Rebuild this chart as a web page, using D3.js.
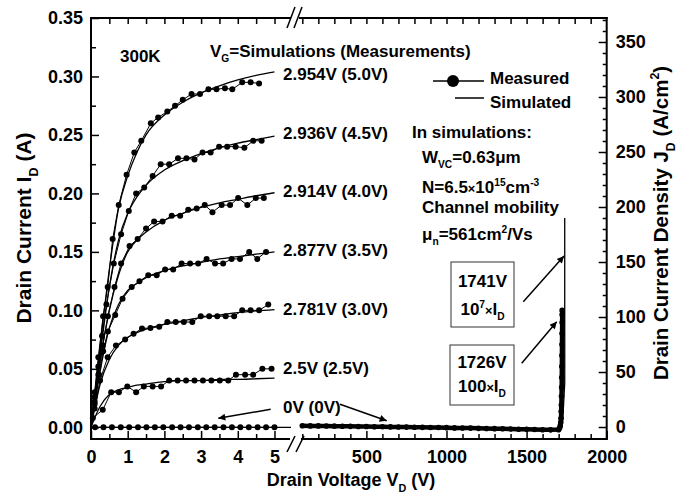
<!DOCTYPE html>
<html>
<head>
<meta charset="utf-8">
<script src="https://cdn.jsdelivr.net/npm/d3@7"></script>
<style>
  body { margin: 0; background: #fff; }
  svg { display: block; }
  text { font-family: "Liberation Sans", Arial, sans-serif; font-weight: bold; }
</style>
</head>
<body>
<svg id="chart" width="680" height="494"></svg>
<script>
// measured curves (V, A), left part 0-5 V
const m50V = [0.1,0.2,0.33,0.455,0.59,0.755,0.97,1.18,1.37,1.63,1.83,2.08,2.29,2.5,2.74,2.97,3.2,3.42,3.65,3.85,4.12,4.35,4.58];
const m50I = [0.03,0.06,0.095,0.12,0.161,0.19,0.216,0.235,0.245,0.26,0.265,0.27,0.275,0.28,0.285,0.285,0.289,0.289,0.29,0.289,0.295,0.295,0.294];
const m45V = [0.1,0.2,0.3,0.42,0.62,0.82,1.03,1.23,1.45,1.68,1.9,2.13,2.37,2.6,2.82,3.04,3.26,3.49,3.71,3.94,4.18,4.42,4.65];
const m45I = [0.026,0.052,0.078,0.105,0.14,0.165,0.185,0.2,0.205,0.215,0.225,0.225,0.23,0.23,0.229,0.235,0.235,0.24,0.24,0.24,0.239,0.245,0.245];
const m40V = [0.1,0.2,0.32,0.46,0.64,0.82,1.05,1.27,1.5,1.72,1.95,2.2,2.43,2.65,2.88,3.1,3.31,3.56,3.79,4.01,4.26,4.49,4.71];
const m40I = [0.022,0.045,0.07,0.095,0.12,0.14,0.155,0.161,0.17,0.176,0.176,0.181,0.181,0.186,0.187,0.19,0.184,0.19,0.19,0.196,0.19,0.196,0.196];
const m35V = [0.1,0.22,0.33,0.46,0.66,0.86,1.11,1.32,1.56,1.79,2.02,2.24,2.47,2.7,2.92,3.15,3.38,3.6,3.83,4.06,4.31,4.53,4.77];
const m35I = [0.02,0.045,0.065,0.082,0.096,0.11,0.12,0.125,0.13,0.13,0.135,0.135,0.14,0.14,0.14,0.144,0.14,0.14,0.144,0.144,0.15,0.144,0.15];
const m30V = [0.1,0.245,0.455,0.68,0.93,1.16,1.39,1.62,1.86,2.08,2.31,2.53,2.76,2.99,3.22,3.44,3.67,3.9,4.12,4.35,4.58,4.83];
const m30I = [0.016,0.04,0.06,0.07,0.075,0.08,0.0845,0.085,0.086,0.09,0.09,0.09,0.09,0.095,0.095,0.095,0.095,0.095,0.1,0.1,0.1,0.105];
const m25V = [0.05,0.32,0.55,0.76,0.99,1.23,1.44,1.68,1.91,2.13,2.36,2.59,2.82,3.05,3.28,3.51,3.74,3.95,4.2,4.42,4.67,4.92];
const m25I = [0.008,0.015,0.03,0.03,0.035,0.03,0.035,0.035,0.035,0.04,0.04,0.04,0.04,0.04,0.04,0.04,0.04,0.045,0.045,0.045,0.05,0.05];
const m0V = [0.11,0.34,0.57,0.81,1.04,1.28,1.51,1.74,1.97,2.21,2.44,2.67,2.91,3.14,3.37,3.61,3.84,4.07,4.3,4.54,4.77,5.0];
const m0I = [0,0,0,0,0,0,0,0,0,0,0,0,0,0,0,0,0,0,0,0,0,0];

// simulated curves on a common voltage grid
const simV = [0,0.1,0.25,0.5,0.75,1,1.25,1.5,2,2.5,3,3.5,4,4.5,5];
const s50 = [0,0.028,0.07,0.135,0.187,0.215,0.235,0.25,0.267,0.278,0.286,0.292,0.297,0.301,0.304];
const s45 = [0,0.025,0.062,0.12,0.16,0.183,0.197,0.207,0.22,0.228,0.234,0.239,0.243,0.246,0.249];
const s40 = [0,0.023,0.057,0.1,0.13,0.15,0.16,0.167,0.177,0.183,0.188,0.192,0.195,0.198,0.2006];
const s35 = [0,0.02,0.048,0.085,0.105,0.117,0.123,0.128,0.134,0.138,0.141,0.144,0.146,0.148,0.15];
const s30 = [0,0.016,0.037,0.058,0.07,0.077,0.081,0.084,0.088,0.091,0.094,0.096,0.098,0.0995,0.1007];
const s25 = [0,0.008,0.018,0.028,0.032,0.034,0.036,0.037,0.039,0.04,0.04,0.041,0.041,0.0415,0.042];
const s0V = [0,5.45];
const s0I = [0,0];

// blocking curve, right part (V, A/cm2)
const blkV = [100,150,200,250,300,350,400,450,500,550,600,650,700,750,800,850,900,950,1000,1050,1100,1150,1200,1250,1300,1350,1400,1450,1500,1550,1600,1650,1700,1706,1710,1713,1715,1716,1717,1718,1719,1719.5,1720,1720.5,1721,1721.5,1722,1722,1722];
const blkJ = [1.2,1.0,1.0,0.9,0.8,0.7,0.6,0.5,0.4,0.3,0.2,0.1,0,-0.1,-0.2,-0.3,-0.4,-0.5,-0.6,-0.8,-0.9,-1.0,-1.2,-1.3,-1.5,-1.6,-1.8,-2.0,-2.1,-2.3,-2.5,-2.6,-2.4,-1,1,4,8,14,20,28,36,45,55,65,75,85,95,102,106];
const blkSimV = [1712,1725,1738,1738];
const blkSimJ = [0,5,40,190];

const leftTicks = [0,0.05,0.1,0.15,0.2,0.25,0.3,0.35];
const rightTicks = [0,50,100,150,200,250,300,350];
const xTicksL = [0,1,2,3,4,5];
const xTicksR = [500,1000,1500,2000];

const curveLabels = ['2.954V (5.0V)','2.936V (4.5V)','2.914V (4.0V)','2.877V (3.5V)','2.781V (3.0V)','2.5V (2.5V)','0V (0V)'];

const svg = d3.select('#chart');

const xL = d3.scaleLinear().domain([0, 5.45]).range([91, 291]);
const xR = d3.scaleLinear().domain([95, 2000]).range([301.5, 606.7]);
const yL = d3.scaleLinear().domain([-0.01, 0.35]).range([439, 18]);
const yR = d3.scaleLinear().domain([-10.9, 371.8]).range([439, 18]);

const FONT = '"Liberation Sans", Arial, sans-serif';

svg.append('defs').append('marker')
  .attr('id', 'arr').attr('viewBox', '0 0 10 10').attr('refX', 10).attr('refY', 5)
  .attr('markerWidth', 9).attr('markerHeight', 7).attr('markerUnits', 'userSpaceOnUse')
  .attr('orient', 'auto')
  .append('path').attr('d', 'M0,0L10,5L0,10Z').attr('fill', '#000');

function styleAxis(g, size) {
  g.select('.domain').remove();
  g.attr('font-family', FONT).attr('font-size', size).attr('font-weight', 'bold');
  g.selectAll('line').attr('stroke-width', 1.5);
}

// bottom axis
svg.append('g').attr('transform', 'translate(0,439)')
  .call(d3.axisBottom(xL).tickValues(xTicksL).tickSize(-8).tickPadding(11).tickFormat(d3.format('d')))
  .call(g => styleAxis(g, 18));
svg.append('g').attr('transform', 'translate(0,439)')
  .call(d3.axisBottom(xL).tickValues([0.5,1.5,2.5,3.5,4.5]).tickSize(-5).tickFormat(''))
  .call(g => styleAxis(g, 18));
svg.append('g').attr('transform', 'translate(0,439)')
  .call(d3.axisBottom(xR).tickValues(xTicksR).tickSize(-8).tickPadding(11).tickFormat(d3.format('d')))
  .call(g => styleAxis(g, 18));
svg.append('g').attr('transform', 'translate(0,439)')
  .call(d3.axisBottom(xR).tickValues([100,200,300,400,600,700,800,900,1100,1200,1300,1400,1600,1700,1800,1900]).tickSize(-5).tickFormat(''))
  .call(g => styleAxis(g, 18));

// top axis (mirror ticks)
svg.append('g').attr('transform', 'translate(0,18)')
  .call(d3.axisTop(xL).tickValues([0.5,1,1.5,2,2.5,3,3.5,4,4.5,5]).tickSize(-6).tickFormat(''))
  .call(g => styleAxis(g, 18));
svg.append('g').attr('transform', 'translate(0,18)')
  .call(d3.axisTop(xR).tickValues([100,200,300,400,500,600,700,800,900,1000,1100,1200,1300,1400,1500,1600,1700,1800,1900]).tickSize(-6).tickFormat(''))
  .call(g => styleAxis(g, 18));

// left axis
svg.append('g').attr('transform', 'translate(91,0)')
  .call(d3.axisLeft(yL).tickValues(leftTicks).tickSize(-8).tickPadding(8).tickFormat(d3.format('.2f')))
  .call(g => styleAxis(g, 18));
svg.append('g').attr('transform', 'translate(91,0)')
  .call(d3.axisLeft(yL).tickValues([0.025,0.075,0.125,0.175,0.225,0.275,0.325]).tickSize(-5).tickFormat(''))
  .call(g => styleAxis(g, 18));

// right axis
svg.append('g').attr('transform', 'translate(606.7,0)')
  .call(d3.axisRight(yR).tickValues(rightTicks).tickSize(-8).tickPadding(9).tickFormat(d3.format('d')))
  .call(g => styleAxis(g, 18));
svg.append('g').attr('transform', 'translate(606.7,0)')
  .call(d3.axisRight(yR).tickValues(d3.range(10, 371, 10).filter(d => d % 50 !== 0)).tickSize(-4).tickFormat(''))
  .call(g => styleAxis(g, 18));

// frame with the break
const frame = svg.append('g').attr('stroke', '#000').attr('stroke-width', 2).attr('fill', 'none');
frame.append('line').attr('x1', 91).attr('x2', 91).attr('y1', 17).attr('y2', 440);
frame.append('line').attr('x1', 606.7).attr('x2', 606.7).attr('y1', 17).attr('y2', 440);
frame.append('line').attr('x1', 90).attr('x2', 291).attr('y1', 18).attr('y2', 18);
frame.append('line').attr('x1', 299).attr('x2', 607.7).attr('y1', 18).attr('y2', 18);
frame.append('line').attr('x1', 90).attr('x2', 290).attr('y1', 439).attr('y2', 439);
frame.append('line').attr('x1', 301).attr('x2', 607.7).attr('y1', 439).attr('y2', 439);
const brk = svg.append('g').attr('stroke', '#000').attr('stroke-width', 1.5);
brk.append('line').attr('x1', 287).attr('y1', 28).attr('x2', 295).attr('y2', 7);
brk.append('line').attr('x1', 294).attr('y1', 28).attr('x2', 302).attr('y2', 7);
brk.append('line').attr('x1', 287).attr('y1', 452).attr('x2', 295).attr('y2', 436);
brk.append('line').attr('x1', 296).attr('y1', 452).attr('x2', 304).attr('y2', 436);

// simulated lines
const simLine = d3.line().x(d => xL(d[0])).y(d => yL(d[1])).curve(d3.curveMonotoneX);
[s50, s45, s40, s35, s30, s25].forEach(s => {
  svg.append('path').datum(simV.map((v, i) => [v, s[i]]))
    .attr('d', simLine).attr('fill', 'none').attr('stroke', '#000').attr('stroke-width', 1.3);
});
svg.append('path').datum(s0V.map((v, i) => [v, s0I[i]]))
  .attr('d', simLine).attr('fill', 'none').attr('stroke', '#000').attr('stroke-width', 1.3);

// measured lines + dots
const measLine = d3.line().x(d => xL(d[0])).y(d => yL(d[1]));
[[m50V, m50I], [m45V, m45I], [m40V, m40I], [m35V, m35I], [m30V, m30I], [m25V, m25I], [m0V, m0I]].forEach(([vs, is]) => {
  const pts = vs.map((v, i) => [v, is[i]]);
  svg.append('path').datum(pts).attr('d', measLine).attr('fill', 'none').attr('stroke', '#000').attr('stroke-width', 1);
  svg.append('g').selectAll('circle').data(pts).join('circle')
    .attr('cx', d => xL(d[0])).attr('cy', d => yL(d[1])).attr('r', 3).attr('fill', '#000');
});

// blocking characteristic (right part)
const blkPts = blkV.map((v, i) => [v, blkJ[i]]);
svg.append('path').datum(blkPts)
  .attr('d', d3.line().x(d => xR(d[0])).y(d => yR(d[1])))
  .attr('fill', 'none').attr('stroke', '#000').attr('stroke-width', 4.5);
svg.append('g').selectAll('circle').data(blkPts).join('circle')
  .attr('cx', d => xR(d[0])).attr('cy', d => yR(d[1])).attr('r', 2.8).attr('fill', '#000');
svg.append('path').datum(blkSimV.map((v, i) => [v, blkSimJ[i]]))
  .attr('d', d3.line().x(d => xR(d[0])).y(d => yR(d[1])))
  .attr('fill', 'none').attr('stroke', '#000').attr('stroke-width', 1.3);

// rich text helper: parts with sub/sup
function rich(x, y, parts, size, anchor) {
  const t = svg.append('text').attr('x', x).attr('y', y).attr('font-size', size)
    .attr('text-anchor', anchor || 'start').attr('fill', '#000');
  let shift = 0;
  parts.forEach(p => {
    const s = p.sub ? 0.32 * size : p.sup ? -0.42 * size : 0;
    const ts = t.append('tspan').attr('dy', s - shift).text(p.t);
    if (p.sub || p.sup) ts.attr('font-size', size * 0.6);
    if (p.small) ts.attr('font-size', size * 0.75);
    shift = s;
  });
  return t;
}

rich(120, 62, [{t: '300K'}], 17);
rich(210, 57, [{t: 'V'}, {t: 'G', sub: true}, {t: '=Simulations (Measurements)'}], 17);
const labY = [80, 138.5, 197, 256, 315, 374, 413];
curveLabels.forEach((l, i) => rich(283, labY[i], [{t: l}], 17));

// legend
svg.append('line').attr('x1', 433).attr('x2', 484).attr('y1', 81).attr('y2', 81).attr('stroke', '#000').attr('stroke-width', 1.5);
svg.append('circle').attr('cx', 453).attr('cy', 81).attr('r', 6).attr('fill', '#000');
rich(490, 84, [{t: 'Measured'}], 17);
svg.append('line').attr('x1', 455).attr('x2', 484).attr('y1', 98).attr('y2', 98).attr('stroke', '#000').attr('stroke-width', 1.5);
rich(490, 108, [{t: 'Simulated'}], 17);

rich(412, 138, [{t: 'In simulations:'}], 17);
rich(422, 163, [{t: 'W'}, {t: 'VC', sub: true}, {t: '=0.63\u03bcm'}], 17);
rich(422, 193, [{t: 'N=6.5'}, {t: '\u00d7', small: true}, {t: '10'}, {t: '15', sup: true}, {t: 'cm'}, {t: '-3', sup: true}], 17);
rich(422, 213, [{t: 'Channel mobility'}], 17);
rich(422, 240, [{t: '\u03bc'}, {t: 'n', sub: true}, {t: '=561cm'}, {t: '2', sup: true}, {t: '/Vs'}], 17);

// boxes
svg.append('rect').attr('x', 451).attr('y', 262).attr('width', 63).attr('height', 65)
  .attr('fill', 'none').attr('stroke', '#333').attr('stroke-width', 1);
rich(482.5, 287, [{t: '1741V'}], 17, 'middle');
rich(482.5, 315, [{t: '10'}, {t: '7', sup: true}, {t: '\u00d7', small: true}, {t: 'I'}, {t: 'D', sub: true}], 17, 'middle');
svg.append('rect').attr('x', 450).attr('y', 345).attr('width', 64).attr('height', 60)
  .attr('fill', 'none').attr('stroke', '#333').attr('stroke-width', 1);
rich(482, 368, [{t: '1726V'}], 17, 'middle');
rich(482, 392, [{t: '100'}, {t: '\u00d7', small: true}, {t: 'I'}, {t: 'D', sub: true}], 17, 'middle');

// arrows
const arrows = [[270.7, 409.3, 218.3, 418.3], [340, 404.3, 386.7, 420.7], [523.3, 301.7, 564, 256], [521.7, 363.3, 556.7, 321.7]];
arrows.forEach(a => svg.append('line').attr('x1', a[0]).attr('y1', a[1]).attr('x2', a[2]).attr('y2', a[3])
  .attr('stroke', '#000').attr('stroke-width', 1.5).attr('marker-end', 'url(#arr)'));

// axis titles
rich(351, 486, [{t: 'Drain Voltage V'}, {t: 'D', sub: true}, {t: ' (V)'}], 18, 'middle');
rich(0, 0, [{t: 'Drain Current I'}, {t: 'D', sub: true}, {t: ' (A)'}], 21, 'middle')
  .attr('transform', 'translate(31,228) rotate(-90)');
rich(0, 0, [{t: 'Drain Current Density J'}, {t: 'D', sub: true}, {t: ' (A/cm'}, {t: '2', sup: true}, {t: ')'}], 20.5, 'middle')
  .attr('transform', 'translate(668,223) rotate(-90)');
</script>
</body>
</html>
